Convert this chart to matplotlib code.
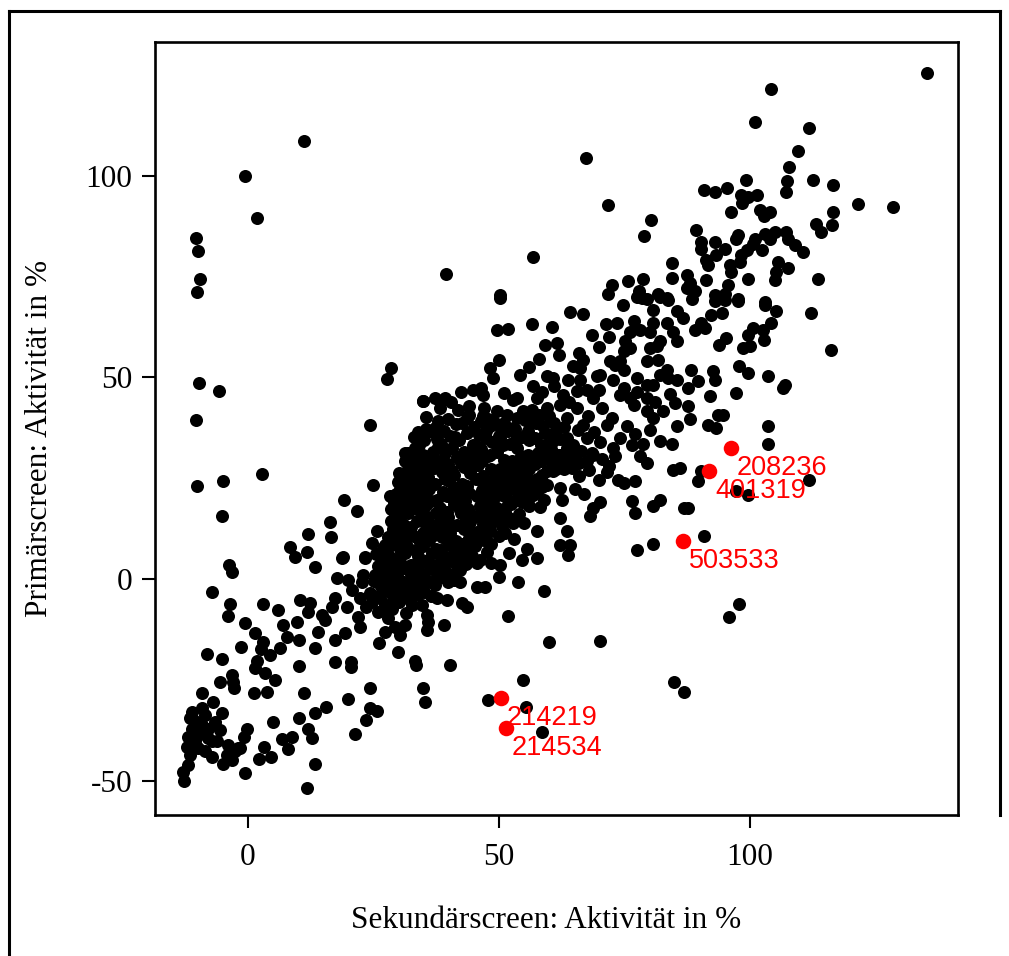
import matplotlib
matplotlib.use("Agg")
import matplotlib.pyplot as plt
from matplotlib.lines import Line2D

# ---------------- data ----------------
outliers_left = [(11.1,108.8),(-0.7,100.1),(1.7,89.5),(-10.3,84.5),(-10.0,81.3),(-9.6,74.4),(-10.1,71.2),
    (-9.8,48.6),(-5.8,46.7),(-10.3,39.4),(-10.1,23.0),(-4.9,24.4),(2.7,26.1),(-5.1,15.7),
    (28.5,52.4),(27.7,49.6),(24.3,38.3),(24.8,23.3),(19.2,19.7),(21.8,16.8),(16.3,14.1),(16.5,10.4),
    (12.0,11.2),(8.4,7.9),(11.7,6.7),(28.3,20.5),(28.4,17.4),(30.1,14.6),(25.6,11.8),(28.8,12.4),
    (24.6,8.9),(27.3,8.5),(34.8,44.1),(33.9,36.4),(31.3,31.3),(33.3,31.5),(31.3,29.2),(34.3,27.1),
    (30.1,26.4),(29.9,24.1),(32.0,25.1),(33.9,23.4),(30.9,18.0),(32.6,20.1),(19.0,5.4),(23.3,5.4)]

upper_arm = [(67.3,104.5),(71.7,92.7),(80.3,89.2),(78.9,85.2),(56.8,79.9),(39.4,75.6),(50.2,70.5),
    (84.4,78.4),(84.5,74.7),(72.6,72.9),(75.6,73.9),(78.6,74.4),(71.8,70.8),(77.8,71.5),(78.5,69.8),
    (81.7,70.8),(83.4,69.7),(87.4,75.4),(87.4,72.1),
    (135.2,125.6),(104.1,121.7),(100.9,113.3),(111.8,111.8),(109.5,106.2),(107.7,102.3),(107.4,98.8),
    (107.2,96.0),(112.5,98.9),(116.5,97.7),(121.5,93.0),(128.4,92.3),(116.5,91.0),(116.3,87.8),
    (113.1,88.2),(114.2,86.1),(99.1,99.1),(90.8,96.5),(93.0,96.0),(95.5,97.1),(98.3,95.2),(99.6,94.8),
    (101.3,95.2),(98.5,93.3),(96.2,91.1),(101.9,91.5),(103.9,91.1),(102.8,90.1),(89.2,86.5),(90.3,83.6),
    (90.3,82.0),(93.0,83.6),(95.0,82.0),(93.3,80.3),(91.3,79.1),(91.6,77.8),(97.6,85.3),(97.3,84.4),
    (100.9,84.4),(103.0,85.7),(104.9,86.1),(103.9,84.4),(100.6,83.2),(99.3,81.6),(98.3,80.3),(98.0,78.7),
    (102.3,81.6),(107.2,86.1),(107.6,84.4),(108.9,82.8),(110.6,81.1),(105.6,78.7),(107.6,77.2),
    (105.2,76.2),(104.9,74.1),(113.5,74.5),(99.5,74.4),(96.0,77.8),(96.3,76.2),(95.6,72.9),(91.3,74.1),
    (88.0,73.5),(89.0,71.5),(88.5,69.5),(93.0,70.4),(95.0,70.8),(97.6,69.6),(102.9,68.7),
    (112.2,66.0),(116.2,56.9),(103.6,50.3),(106.9,48.2),(106.6,47.4),(97.2,46.2),(103.6,37.9),
    (103.6,33.5),(111.8,24.6),(97.3,21.9),(99.6,20.9),(90.3,26.9),(89.6,24.2),(87.6,17.6),(90.8,10.6),
    (91.6,38.3),(93.3,37.5),(93.6,40.8),(94.6,40.8),(92.0,45.3),(88.0,39.6),(92.6,51.7),(93.0,49.5),
    (88.3,51.9),(89.6,49.1),(87.6,47.4),(97.9,52.8),(99.6,51.1),(98.6,57.3),(99.9,57.7),(99.6,60.6),
    (100.6,62.3),(102.6,61.9),(102.8,59.4),(95.3,59.8),(93.9,58.1),(104.2,63.5),(102.9,68.1),
    (105.2,66.4),(97.6,68.9),(92.3,65.6),(94.4,66.0),(90.3,63.5),(89.0,61.9),(91.0,62.3),(93.0,68.9),
    (95.0,69.3)]

middle = [(50.2,69.7),(64.1,66.3),(66.7,65.8),(74.6,68.1),(77.4,70.0),(79.4,69.6),(82.1,70.0),(83.7,69.2),
    (80.7,66.8),(85.4,66.4),(86.7,64.8),(49.5,61.9),(51.7,62.1),(56.5,63.3),(60.5,62.5),(59.2,58.0),
    (71.3,63.2),(76.8,63.9),(76.1,61.4),(75.1,59.0),(78.1,61.9),(80.1,61.4),(80.7,63.5),(83.4,63.5),
    (84.7,61.4),(85.4,59.0),(82.1,59.0),(74.8,56.5),(76.1,57.3),(74.1,54.0),(80.1,57.3),(81.4,57.7),
    (81.7,54.4),(79.4,54.0),(83.4,51.9),(83.7,49.9),(85.4,49.5),(82.1,50.7),(77.4,49.9),(79.4,48.2),
    (80.7,48.2),(66.0,56.1),(66.8,54.4),(64.8,52.8),(66.1,52.4),(72.1,54.0),(73.1,53.2),(74.8,51.9),
    (70.1,50.7),(72.8,49.5),(74.8,47.4),(74.1,45.7),(76.1,44.9),(76.8,43.3),(79.4,41.6),(80.7,40.0),
    (82.7,41.6),(85.1,43.7),(87.7,42.9),(85.4,37.9),(82.1,34.2),(84.4,33.6),(76.4,33.3),(78.6,33.6),
    (78.1,30.4),(79.4,28.8),(84.7,27.1),(86.1,27.5),(72.8,32.5),(73.1,30.4),(73.8,24.6),(74.8,23.8),
    (77.1,24.2),(76.4,19.3),(77.1,16.4),(80.7,18.0),(82.1,19.7),(86.9,17.6),(77.4,7.3),(80.7,8.7),
    (70.0,24.6),(65.1,22.4),(70.1,19.1),(68.8,17.6),(68.1,15.6),(62.2,22.6),(62.5,19.7),(62.2,15.1),
    (63.5,11.8),(62.2,8.5),(64.1,8.5),(67.5,35.0),(68.8,30.8),(67.5,29.2),(65.1,30.4),(64.8,33.3),
    (71.5,38.3),(67.8,40.4),(65.5,42.4),(62.2,43.3),(59.5,42.4),(62.8,45.7),(65.5,46.6),(66.1,49.5),
    (67.5,47.0),(68.8,44.9),(69.5,50.3),(63.8,49.5),(60.8,49.9),(59.5,50.3),(54.2,50.7),(56.8,47.8),
    (57.5,44.9),(53.5,44.9),(54.8,41.6),(56.2,38.7),(58.8,37.9),(61.2,36.6),(60.8,34.2),(63.5,32.5),
    (64.1,30.0),(62.2,30.8),(49.9,54.4),(48.2,52.4),(48.9,49.9),(44.9,47.0),(46.9,45.7),(50.9,46.2),
    (52.8,44.5),(34.9,44.1),(37.3,44.9),(39.2,44.9),(38.2,42.4),(41.9,42.0),(43.6,40.0),(46.9,40.4),
    (49.5,41.6),(51.5,40.8),(48.2,37.9),(50.2,35.0),(47.5,35.0),(53.5,40.0),(52.8,37.5),
    (56.5,42.0),(60.0,40.5),(63.5,40.0),(66.8,38.2),(69.0,36.5),(58.5,46.5),(61.0,47.8),(64.0,44.0),
    (70.5,42.5),(72.5,40.0),(68.0,27.0),(66.0,25.5),(71.5,26.5),(60.5,29.0),(64.5,27.5),(67.0,21.0),
    (59.0,19.5),(56.0,18.0),(55.0,14.0),(57.5,12.0),(53.0,10.0),(55.5,7.5),(52.0,6.5),(46.5,47.5),
    (42.5,46.5),(40.5,44.0),(44.0,43.0),(47.0,42.5),(56.0,52.5),(58.0,54.5),(62.0,55.5),(61.5,58.5),
    (70.0,57.5),(68.5,60.5),(72.0,60.0),(73.5,63.5),(70.0,47.0),(77.5,46.5),(79.5,45.0),(81.0,44.0),
    (84.0,46.0),(75.5,38.0),(77.0,36.0),(74.0,35.0),(80.0,37.0)]

core = [(35.5,40.3),(39.8,39.6),(44.1,40.8),(46.5,39.2),(55.2,39.5),(58.0,40.6),
    (37.2,37.5),(41.5,38.4),(45.0,37.7),(49.0,38.9),(53.1,37.2),(57.3,38.6),(63.0,37.6),
    (34.0,35.6),(36.8,36.6),(40.2,35.4),(43.7,36.3),(46.1,35.8),(51.8,36.7),(54.6,35.3),(59.1,36.2),(65.8,36.9),
    (35.1,34.4),(38.5,33.6),(42.0,34.5),(44.8,33.3),(48.7,34.1),(52.2,33.5),(56.0,34.6),(58.4,33.2),(62.1,34.8),(70.2,34.0),
    (33.2,32.4),(36.9,31.6),(40.6,32.5),(43.1,31.4),(46.4,32.2),(49.5,31.5),(53.6,32.6),(57.7,31.3),(60.3,32.3),(66.4,31.8),
    (32.0,29.6),(35.3,30.5),(38.2,29.4),(41.7,30.3),(44.4,29.7),(47.8,30.6),(50.9,29.5),(54.3,30.4),(56.8,29.3),(59.9,30.2),(63.0,29.0),(70.6,29.8),
    (34.2,28.3),(37.0,27.5),(39.9,28.5),(43.0,27.7),(45.9,28.4),(48.4,27.3),(51.5,28.2),(53.9,27.6),(57.2,28.6),(61.4,27.4),(72.0,28.1),
    (33.0,26.2),(35.8,25.4),(38.6,26.5),(41.1,25.7),(44.2,26.3),(46.8,25.5),(49.9,26.6),(52.7,25.3),(55.3,26.1),(58.6,25.8),(60.8,26.7),
    (31.5,23.8),(34.4,24.5),(37.3,23.5),(40.0,24.4),(42.6,23.6),(45.4,24.7),(48.1,23.7),(50.8,24.3),(53.4,23.4),(56.9,24.2),(59.5,23.3),
    (30.2,22.3),(33.6,21.5),(36.1,22.4),(38.9,21.6),(41.7,22.5),(44.0,21.4),(46.6,22.2),(49.3,21.7),(51.9,22.6),(54.7,21.3),(57.8,22.0),
    (31.1,19.6),(34.8,20.4),(37.6,19.5),(40.4,20.3),(43.2,19.4),(45.7,20.5),(48.9,19.7),(50.5,20.8),(53.0,19.3),(55.9,20.2),
    (30.0,18.3),(32.8,17.6),(35.5,18.4),(38.3,17.5),(41.0,18.5),(43.8,17.4),(46.3,18.2),(49.6,17.7),(52.4,18.6),(58.2,17.9),
    (29.2,15.6),(31.9,16.4),(34.6,15.5),(37.4,16.3),(39.8,15.4),(42.5,16.5),(45.1,15.7),(47.9,16.2),(50.3,15.3),(54.0,16.1),
    (28.4,14.3),(31.0,13.5),(33.7,14.4),(36.3,13.6),(39.0,14.5),(41.6,13.4),(44.3,14.2),(46.9,13.7),(49.0,14.6),(52.8,13.9),
    (29.6,11.6),(32.3,12.4),(34.9,11.5),(37.8,12.3),(40.3,11.4),(43.1,12.5),(45.6,11.7),(48.2,12.2),(51.1,11.3),
    (27.9,10.3),(30.7,9.5),(33.4,10.4),(36.0,9.6),(38.7,10.5),(41.4,9.4),(44.0,10.2),(47.0,9.7),(50.0,10.6),
    (26.8,7.6),(29.4,8.4),(32.1,7.5),(34.8,8.3),(37.5,7.4),(40.1,8.5),(42.8,7.7),(45.3,8.2),
    (25.5,6.3),(28.3,5.5),(31.2,6.4),(33.9,5.6),(36.6,6.5),(39.3,5.4),(42.0,6.2),(44.7,5.7),(47.6,6.6),
    (27.0,3.6),(29.9,4.4),(32.5,3.5),(35.2,4.3),(37.9,3.4),(40.6,4.5),(43.4,3.7),
    (26.1,2.3),(28.8,1.5),(31.6,2.4),(34.3,1.6),(36.9,2.5),(39.6,1.4),(42.3,2.2),
    (25.0,-0.4),(27.6,0.4),(30.4,-0.5),(33.0,0.3),(35.7,-0.6),(38.4,0.5),(41.0,-0.3),
    (26.5,-1.7),(29.0,-2.5),(31.8,-1.6),(34.5,-2.4),(37.2,-1.5),
    (25.8,-4.3),(28.5,-3.5),(31.1,-4.4),(33.8,-3.6),(36.4,-4.2),
    (24.6,-5.7),(27.2,-6.5),(30.0,-5.6),(32.7,-6.4),
    (25.9,-8.3),(28.7,-7.5),(31.4,-8.4)]

core_fill = [(37.8,39.3),(42.6,38.8),(47.9,39.6),(51.0,38.6),(56.4,39.2),(60.9,38.7),
    (35.5,37.2),(39.0,36.8),(47.4,36.7),(50.3,37.3),(55.8,36.8),(61.5,37.2),
    (33.1,35.2),(37.6,34.7),(41.2,35.3),(49.9,35.4),(53.4,34.6),(57.2,35.1),(63.6,34.9),
    (34.1,33.2),(37.8,32.8),(45.9,32.7),(50.8,33.2),(59.3,33.3),(64.8,32.9),
    (31.8,31.2),(34.8,30.8),(39.3,31.3),(45.2,31.2),(48.3,30.8),(55.7,30.7),(58.8,31.2),(61.8,30.8),(68.5,31.2),
    (33.2,29.2),(36.4,28.8),(42.5,28.7),(46.6,29.2),(52.6,29.3),(55.6,28.7),(58.3,29.2),(65.9,28.8),
    (31.9,27.2),(34.9,26.8),(40.7,26.7),(44.4,27.2),(50.2,27.3),(52.4,26.7),(56.0,27.2),(59.5,26.8),(62.9,27.2),
    (30.5,25.2),(33.2,24.8),(39.3,24.7),(46.0,24.8),(49.2,25.3),(51.6,24.7),(54.4,25.2),(57.6,24.8),
    (32.0,23.2),(35.5,22.8),(41.0,22.7),(43.7,23.2),(50.0,23.3),(52.6,22.7),(55.6,23.2),(58.5,22.8),
    (29.5,21.2),(32.2,20.8),(39.6,20.7),(42.6,21.2),(47.6,21.3),(51.4,20.7),(54.0,21.2),(56.8,20.8),
    (29.0,19.2),(33.4,18.8),(36.4,19.3),(42.1,19.2),(47.5,19.3),(51.7,18.7),(54.6,19.2),
    (31.3,17.2),(34.2,16.8),(39.7,16.7),(42.3,17.2),(48.5,17.3),(51.2,16.7),
    (30.2,15.2),(35.8,15.3),(38.5,14.7),(43.5,14.8),(46.3,15.3),(48.8,14.7),(52.0,15.2),
    (29.5,13.2),(32.4,12.8),(35.4,13.3),(40.5,13.2),(42.8,12.8),(48.1,12.7),(50.6,13.2),
    (28.7,11.2),(31.4,10.8),(36.6,10.7),(39.3,11.2),(44.7,11.3),(47.4,10.7),
    (28.0,9.2),(31.5,8.8),(34.3,9.3),(39.9,9.2),(42.7,8.8),(45.6,9.3),(48.5,8.7),
    (27.6,7.2),(30.5,6.8),(33.5,7.3),(38.5,7.2),(41.2,6.8),(44.0,7.3),
    (26.8,5.2),(30.1,4.8),(35.8,4.7),(38.4,5.2),(41.4,4.8),(43.9,5.3),(46.3,4.7),
    (25.8,3.2),(28.3,2.8),(31.0,3.3),(33.6,2.7),(36.3,3.2),(39.0,2.8),(41.7,3.3),
    (26.9,1.2),(29.6,0.8),(32.4,1.3),(35.0,0.7),(37.6,1.2),(40.3,0.8),
    (25.7,-0.8),(28.3,-1.2),(30.9,-0.7),(33.6,-1.3),(36.3,-0.8),
    (27.2,-2.8),(29.8,-3.2),(32.5,-2.7),(35.1,-3.3),
    (26.2,-4.8),(28.9,-5.2),(31.6,-4.7)]

lower = [(-3.8,3.5),(-3.2,1.8),(-7.1,-3.3),(-3.6,-6.3),(-3.9,-9.2),(2.9,-6.2),(6.0,-7.7),(-0.7,-10.8),
    (1.4,-13.3),(2.9,-15.7),(2.6,-17.4),(-1.3,-16.9),(-8.2,-18.5),(-5.2,-19.9),(6.9,-11.4),(7.7,-14.3),
    (9.7,-10.7),(10.2,-15.1),(6.4,-17.2),(10.4,-5.2),(12.4,-6.0),(12.0,-8.1),(9.4,5.5),(13.3,2.9),
    (14.7,-8.9),(15.3,-10.2),(14.0,-13.2),(13.3,-17.2),(17.3,-4.8),(16.7,-6.9),(19.7,-6.9),(17.3,-15.1),
    (19.3,-13.3),(17.3,-20.7),(20.6,-20.5),(20.6,-21.8),(10.2,-21.6),(1.7,-20.3),(1.4,-22.2),(3.4,-23.4),
    (5.4,-25.1),(4.4,-18.9),(-3.2,-23.8),(-2.9,-25.5),(-2.8,-27.1),(-5.6,-25.6),(-9.2,-28.2),(1.2,-28.2),
    (3.8,-28.1),(11.2,-28.2),(20.0,-29.9),(24.2,-27.1),(15.5,-31.8),(13.3,-33.2),(10.2,-34.6),(5.0,-35.4),
    (12.0,-37.1),(12.7,-39.5),(24.3,-32.1),(25.6,-32.7),(23.5,-35.0),(21.3,-38.5),(-0.3,-37.3),(-0.9,-39.3),
    (-1.6,-41.9),(6.7,-39.8),(8.7,-39.1),(7.9,-42.3),(3.2,-41.6),(4.6,-44.1),(2.1,-44.7),(13.3,-45.9),
    (-0.6,-48.2),(11.7,-51.8),
    (-12.7,-50.1),(-12.9,-48.0),(-11.9,-46.2),(-11.6,-43.7),(-12.2,-41.6),(-11.9,-39.1),(-11.2,-37.1),
    (-11.6,-34.6),(-11.2,-32.9),(-9.2,-32.1),(-6.9,-30.4),(-5.2,-33.3),(-6.6,-35.4),(-5.6,-37.5),(-7.9,-37.1),
    (-9.9,-38.7),(-9.9,-42.0),(-8.6,-42.8),(-7.2,-44.1),(-4.9,-46.0),(-4.2,-43.7),(-3.2,-44.9),(-2.6,-42.8),
    (-3.9,-41.2),(-1.9,-41.9),(-7.2,-40.3),(-10.2,-35.4),(-8.6,-33.7),(-9.2,-36.2),(-10.6,-40.3),(-7.9,-39.5),
    (-6.2,-40.3),
    (18.7,5.1),(23.3,5.1),(17.7,0.2),(20.0,-0.2),(23.0,1.0),(22.7,-0.7),(25.3,1.0),(20.7,-2.7),(22.3,-4.8),
    (23.6,-6.9),(22.0,-9.4),(22.3,-11.8),(24.3,-3.5),(27.3,-2.3),(27.9,1.0),(29.3,4.3),(26.6,4.3),(30.6,2.7),
    (32.6,0.2),(31.3,-3.1),(33.3,-4.0),(34.6,-6.5),(29.3,-5.6),(27.3,-7.3),(27.9,-9.8),(29.3,-11.8),
    (27.3,-13.1),(26.0,-16.0),(30.3,-13.9),(29.9,-18.0),(33.3,-20.3),(31.3,-11.4),(34.9,-27.1),(35.3,-30.4),
    (51.7,-9.1),(59.0,-3.0),(53.8,-0.7),(60.0,-15.7),(70.1,-15.4),(40.2,-21.3),(54.8,-25.1),(47.9,-30.0),
    (55.4,-31.8),(58.6,-37.9),(84.9,-25.6),(86.9,-28.0),(33.5,-21.4),(39.0,-11.3),(35.6,-8.9),(35.9,-10.6),
    (35.6,-12.7),(42.6,-6.0),(43.6,-6.9),(45.6,-1.9),(47.2,-1.9),(49.9,0.6),(50.2,3.5),(48.5,3.9),(45.6,3.9),
    (54.5,4.7),(57.5,5.3),(63.8,6.0),(42.2,-0.7),(39.9,-0.7),(37.6,-4.8),(39.6,-5.2),(97.9,-6.3),(95.8,-9.4)]

highlight_ids = ["208236", "401319", "503533", "214219", "214534"]
highlight_x = [96.2, 91.9, 86.7, 50.3, 51.3]
highlight_y = [32.6, 26.7, 9.5, -29.6, -36.9]

x_ticks = [0, 50, 100]
y_ticks = [-50, 0, 50, 100]
x_label = "Sekundärscreen: Aktivität in %"
y_label = "Primärscreen: Aktivität in %"

# ---------------- drawing ----------------
all_pts = outliers_left + upper_arm + middle + core + core_fill + lower
xs = [p[0] for p in all_pts]
ys = [p[1] for p in all_pts]

W, H = 1009, 956
fig = plt.figure(figsize=(W / 100, H / 100), dpi=100)
fig.patch.set_facecolor("white")

ax = fig.add_axes([155 / W, 1 - 815 / H, (958 - 155) / W, (815 - 42) / H])
ax.scatter(xs, ys, s=88, c="black", linewidths=0, zorder=2)
ax.scatter(highlight_x, highlight_y, s=125, c="#ff0000", linewidths=0, zorder=3)
for hid, hx, hy in zip(highlight_ids, highlight_x, highlight_y):
    ax.annotate(hid, (hx, hy), xytext=(6, -20), textcoords="offset pixels",
                ha="left", va="center", color="#ff0000", fontsize=19.5,
                family="Liberation Sans", zorder=4)

ax.set_xlim(-18.53, 141.43)
ax.set_ylim(-58.56, 133.25)
ax.set_xticks(x_ticks)
ax.set_yticks(y_ticks)
ax.set_xticklabels([str(t) for t in x_ticks], family="Liberation Serif", fontsize=22.5)
ax.set_yticklabels([str(t) for t in y_ticks], family="Liberation Serif", fontsize=22.5)
ax.tick_params(axis="both", direction="out", length=9.5, width=1.5, color="black")
ax.tick_params(axis="x", pad=11)
ax.tick_params(axis="y", pad=7)
for sp in ax.spines.values():
    sp.set_linewidth(1.9)
    sp.set_color("black")

fig.text(546 / W, 1 - 920 / H, x_label, ha="center", va="center",
         family="Liberation Serif", fontsize=22.5)
fig.text(40 / W, 1 - 438 / H, y_label, ha="center", va="center", rotation=90,
         family="Liberation Serif", fontsize=22.5)

# outer frame lines of the page
lw = 2.2
fig.add_artist(Line2D([8.5 / W, 8.5 / W], [0, 1 - 10.5 / H], transform=fig.transFigure, color="black", lw=lw))
fig.add_artist(Line2D([8.5 / W, 1000 / W], [1 - 10.5 / H, 1 - 10.5 / H], transform=fig.transFigure, color="black", lw=lw))
fig.add_artist(Line2D([1000 / W, 1000 / W], [1 - 10.5 / H, 1 - 815 / H], transform=fig.transFigure, color="black", lw=lw))

fig.savefig("out.png", dpi=100, facecolor="white")
